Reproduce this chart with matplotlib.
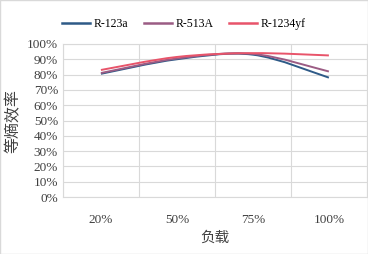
import numpy as np
import matplotlib.pyplot as plt
from matplotlib.path import Path
from matplotlib.patches import PathPatch
from matplotlib.lines import Line2D
from matplotlib.ticker import PercentFormatter

plt.rcParams['font.family'] = ['Liberation Serif', 'Noto Sans CJK SC']

loads = ['20%', '50%', '75%', '100%']
r123a = [80.5, 90, 93, 78]
r513a = [81, 90.5, 93.5, 82]
r1234yf = [83, 91.5, 94, 92.5]

series = [
    ('R-123a', r123a, '#2E5A87'),
    ('R-513A', r513a, '#9B5C84'),
    ('R-1234yf', r1234yf, '#E8546A'),
]


def smooth_path(xs, ys):
    # Catmull-Rom style bezier, like a spreadsheet "smoothed line"
    pts = np.column_stack([xs, ys]).astype(float)
    verts = [pts[0]]
    codes = [Path.MOVETO]
    n = len(pts)
    for i in range(n - 1):
        p0 = pts[max(i - 1, 0)]
        p1 = pts[i]
        p2 = pts[i + 1]
        p3 = pts[min(i + 2, n - 1)]
        c1 = p1 + (p2 - p0) / 6
        c2 = p2 - (p3 - p1) / 6
        verts += [c1, c2, p2]
        codes += [Path.CURVE4] * 3
    return Path(verts, codes)


fig = plt.figure(figsize=(3.68, 2.54), dpi=100)
ax = fig.add_axes([0.171, 0.224, 0.826, 0.603])

x = np.arange(len(loads))
handles = []
for name, vals, color in series:
    patch = PathPatch(smooth_path(x, vals), facecolor='none', edgecolor=color,
                      lw=1.4, capstyle='butt', zorder=3)
    ax.add_patch(patch)
    handles.append(Line2D([], [], color=color, lw=1.8, label=name))

ax.set_xlim(-0.5, 3.5)
ax.set_ylim(0, 100)
ax.set_yticks(np.arange(0, 101, 10))
ax.yaxis.set_major_formatter(PercentFormatter(decimals=0))
ax.set_xticks(x)
ax.set_xticklabels(loads)
ax.set_xticks(np.arange(-0.5, 4, 1), minor=True)
ax.grid(True, which='minor', axis='x', color='#D9D9D9', lw=0.8)
ax.grid(True, which='major', axis='y', color='#D9D9D9', lw=0.8)
ax.tick_params(which='both', length=0, labelsize=9.5, colors='#404040')
ax.tick_params(axis='x', pad=12)
for s in ax.spines.values():
    s.set_color('#D9D9D9')
    s.set_linewidth(0.8)

ax.set_xlabel('负载', fontsize=10.5, color='#404040', labelpad=4)
ax.set_ylabel('等熵效率', fontsize=11.5, color='#404040', labelpad=4)

fig.legend(handles=handles, loc='upper center', bbox_to_anchor=(0.5, 0.97),
           ncol=3, frameon=False, fontsize=8.5, handlelength=2.4,
           columnspacing=1.3, handletextpad=0.3)
fig.patches.append(plt.Rectangle((0, 0), 1, 1, transform=fig.transFigure,
                                 fill=False, edgecolor='#D9D9D9', lw=1))

fig.savefig('out.png', dpi=100)
